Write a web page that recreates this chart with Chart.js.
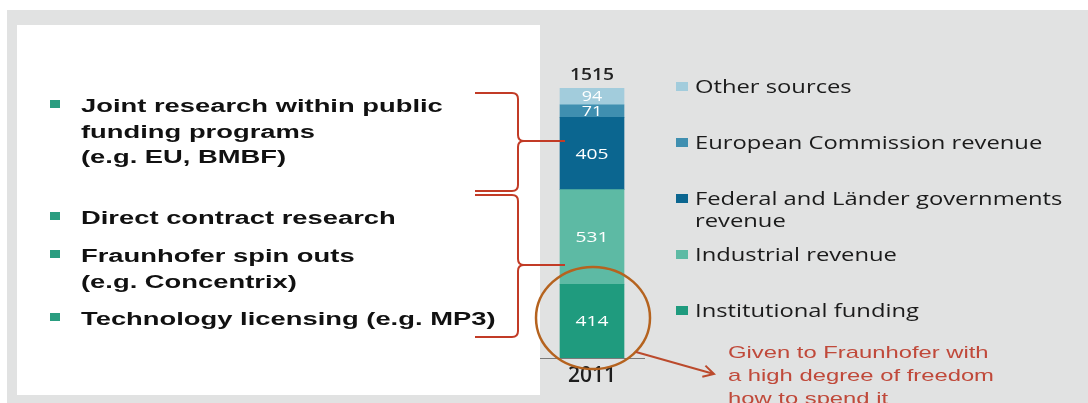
<!DOCTYPE html>
<html>
<head>
<meta charset="utf-8">
<script src="https://cdn.jsdelivr.net/npm/chart.js@4.4.1/dist/chart.umd.min.js"></script>
<style>
    html, body { margin: 0; padding: 0; background: #fff; }
    #stage { position: relative; width: 1088px; height: 403px; overflow: hidden; }
    #back { position: absolute; left: 7px; top: 10px; right: 0; bottom: 0; background: #e1e2e2; }
    #panel { position: absolute; left: 17px; top: 25px; width: 523px; height: 370px; background: #fff; }
    #chart { position: absolute; left: 0; top: 0; }
    .item { position: absolute; left: 81px; font: bold 18px "Liberation Sans", Arial, sans-serif;
            line-height: 25.5px; color: #111; white-space: nowrap;
            transform: scaleX(1.52); transform-origin: 0 0; }
    .bullet { position: absolute; left: 50px; width: 10px; height: 8px; background: #2a9d80; }
    .leg { position: absolute; left: 676px; }
    .leg i { position: absolute; left: 0; top: 7px; width: 12px; height: 9px; }
    .leg span { position: absolute; left: 19px; top: 0; font: 18px "Open Sans", sans-serif; line-height: 22px;
                color: #1b1b1b; white-space: pre; transform: scaleX(1.32); transform-origin: 0 0; }
    #note { position: absolute; left: 728px; top: 341px; font: 17px "Liberation Sans", Arial, sans-serif;
            line-height: 23px; color: #c0493a; white-space: pre; transform: scaleX(1.4); transform-origin: 0 0; }
</style>
</head>
<body>
<div id="stage">
    <div id="back"></div>
    <div id="panel"></div>
    <canvas id="chart" width="1088" height="403"></canvas>

    <div class="bullet" style="top:100px"></div>
    <div class="item" style="top:94px">Joint research within public<br>funding programs<br>(e.g. EU, BMBF)</div>
    <div class="bullet" style="top:212px"></div>
    <div class="item" style="top:206px">Direct contract research</div>
    <div class="bullet" style="top:250px"></div>
    <div class="item" style="top:244px">Fraunhofer spin outs<br>(e.g. Concentrix)</div>
    <div class="bullet" style="top:313px"></div>
    <div class="item" style="top:307px">Technology licensing (e.g. MP3)</div>

    <div id="legend"></div>
    <div id="note">Given to Fraunhofer with
a high degree of freedom
how to spend it</div>
</div>

<script>
// --- data -------------------------------------------------------------
var years = ['2011'];
var institutional = [414];
var industrial = [531];
var federal = [405];
var european = [71];
var other = [94];
var totals = [1515];

var seriesLabels = ['Institutional funding', 'Industrial revenue',
    'Federal and Länder governments\nrevenue', 'European Commission revenue', 'Other sources'];
var seriesColors = ['#1f9b7e', '#5dbaa4', '#0b6690', '#3f8fb0', '#a2ccdc'];
var seriesData = [institutional, industrial, federal, european, other];

// --- legend (html, top item first) ------------------------------------
function buildLegend() {
    var legend = document.getElementById('legend');
    var top = 75;
    for (var i = seriesLabels.length - 1; i >= 0; i--) {
        var div = document.createElement('div');
        div.className = 'leg';
        div.style.top = top + 'px';
        div.innerHTML = '<i style="background:' + seriesColors[i] + '"></i><span></span>';
        div.querySelector('span').textContent = seriesLabels[i];
        legend.appendChild(div);
        top += 56;
    }
}

// --- annotation drawing -----------------------------------------------
function drawBrace(ctx, x0, xv, top, mid, bottom, tipX) {
    var r = 6;
    ctx.beginPath();
    ctx.moveTo(x0, top);
    ctx.lineTo(xv - r, top);
    ctx.quadraticCurveTo(xv, top, xv, top + r);
    ctx.lineTo(xv, mid - r);
    ctx.quadraticCurveTo(xv, mid, xv + r, mid);
    ctx.lineTo(tipX, mid);
    ctx.moveTo(xv + r, mid);
    ctx.quadraticCurveTo(xv, mid, xv, mid + r);
    ctx.lineTo(xv, bottom - r);
    ctx.quadraticCurveTo(xv, bottom, xv - r, bottom);
    ctx.lineTo(x0, bottom);
    ctx.stroke();
}

function drawArrow(ctx, x1, y1, x2, y2) {
    var a = Math.atan2(y2 - y1, x2 - x1);
    var h = 12;
    ctx.beginPath();
    ctx.moveTo(x1, y1);
    ctx.lineTo(x2, y2);
    ctx.moveTo(x2 - h * Math.cos(a - 0.5), y2 - h * Math.sin(a - 0.5));
    ctx.lineTo(x2, y2);
    ctx.lineTo(x2 - h * Math.cos(a + 0.5), y2 - h * Math.sin(a + 0.5));
    ctx.stroke();
}

function stretchedText(ctx, text, x, y, sx) {
    ctx.save();
    ctx.translate(x, y);
    ctx.scale(sx, 1);
    ctx.fillText(text, 0, 0);
    ctx.restore();
}

var annotations = {
    id: 'annotations',
    afterDatasetsDraw: function(chart) {
        var ctx = chart.ctx;
        ctx.save();
        ctx.textAlign = 'center';
        ctx.textBaseline = 'middle';

        // values inside the segments
        ctx.fillStyle = '#ffffff';
        chart.data.datasets.forEach(function(ds, i) {
            var el = chart.getDatasetMeta(i).data[0];
            var p = el.getProps(['x', 'y', 'base'], true);
            ctx.font = (ds.data[0] < 100 ? '14px' : '15px') + ' "Open Sans", sans-serif';
            stretchedText(ctx, String(ds.data[0]), p.x, (p.y + p.base) / 2 + 1, 1.28);
        });

        // total above the bar
        var topEl = chart.getDatasetMeta(chart.data.datasets.length - 1).data[0];
        ctx.fillStyle = '#222';
        ctx.font = '600 16px "Open Sans", sans-serif';
        stretchedText(ctx, String(totals[0]), topEl.x, topEl.y - 13, 1.2);

        // braces
        ctx.strokeStyle = '#c23b26';
        ctx.lineWidth = 2;
        drawBrace(ctx, 475, 518, 93, 141, 191, 565);
        drawBrace(ctx, 475, 518, 195, 265, 337, 565);

        // circle and arrow
        ctx.strokeStyle = '#b5631f';
        ctx.lineWidth = 2.5;
        ctx.beginPath();
        ctx.ellipse(593, 318, 57, 51, 0, 0, Math.PI * 2);
        ctx.stroke();

        ctx.strokeStyle = '#bb4a2c';
        ctx.lineWidth = 2;
        drawArrow(ctx, 636, 352, 714, 374);
        ctx.restore();
    }
};

buildLegend();

var datasets = seriesData.map(function(d, i) {
    return {
        label: seriesLabels[i],
        data: d,
        backgroundColor: seriesColors[i],
        borderWidth: 0,
        barThickness: 64
    };
});

new Chart(document.getElementById('chart').getContext('2d'), {
    type: 'bar',
    data: { labels: years, datasets: datasets },
    options: {
        responsive: false,
        animation: false,
        devicePixelRatio: 1,
        layout: { padding: { left: 540, right: 444, top: 88, bottom: 0 } },
        plugins: { legend: { display: false }, tooltip: { enabled: false } },
        scales: {
            x: {
                stacked: true,
                grid: { display: false, drawTicks: false },
                border: { display: true, color: '#7a7a7a', width: 1 },
                ticks: { color: '#1e1e1e', padding: 5, font: { family: 'Open Sans', size: 21, weight: '600' } },
                afterFit: function(scale) { scale.height = 45; }
            },
            y: {
                stacked: true,
                display: false,
                min: 0,
                max: totals[0]
            }
        }
    },
    plugins: [annotations]
});
</script>
</body>
</html>
